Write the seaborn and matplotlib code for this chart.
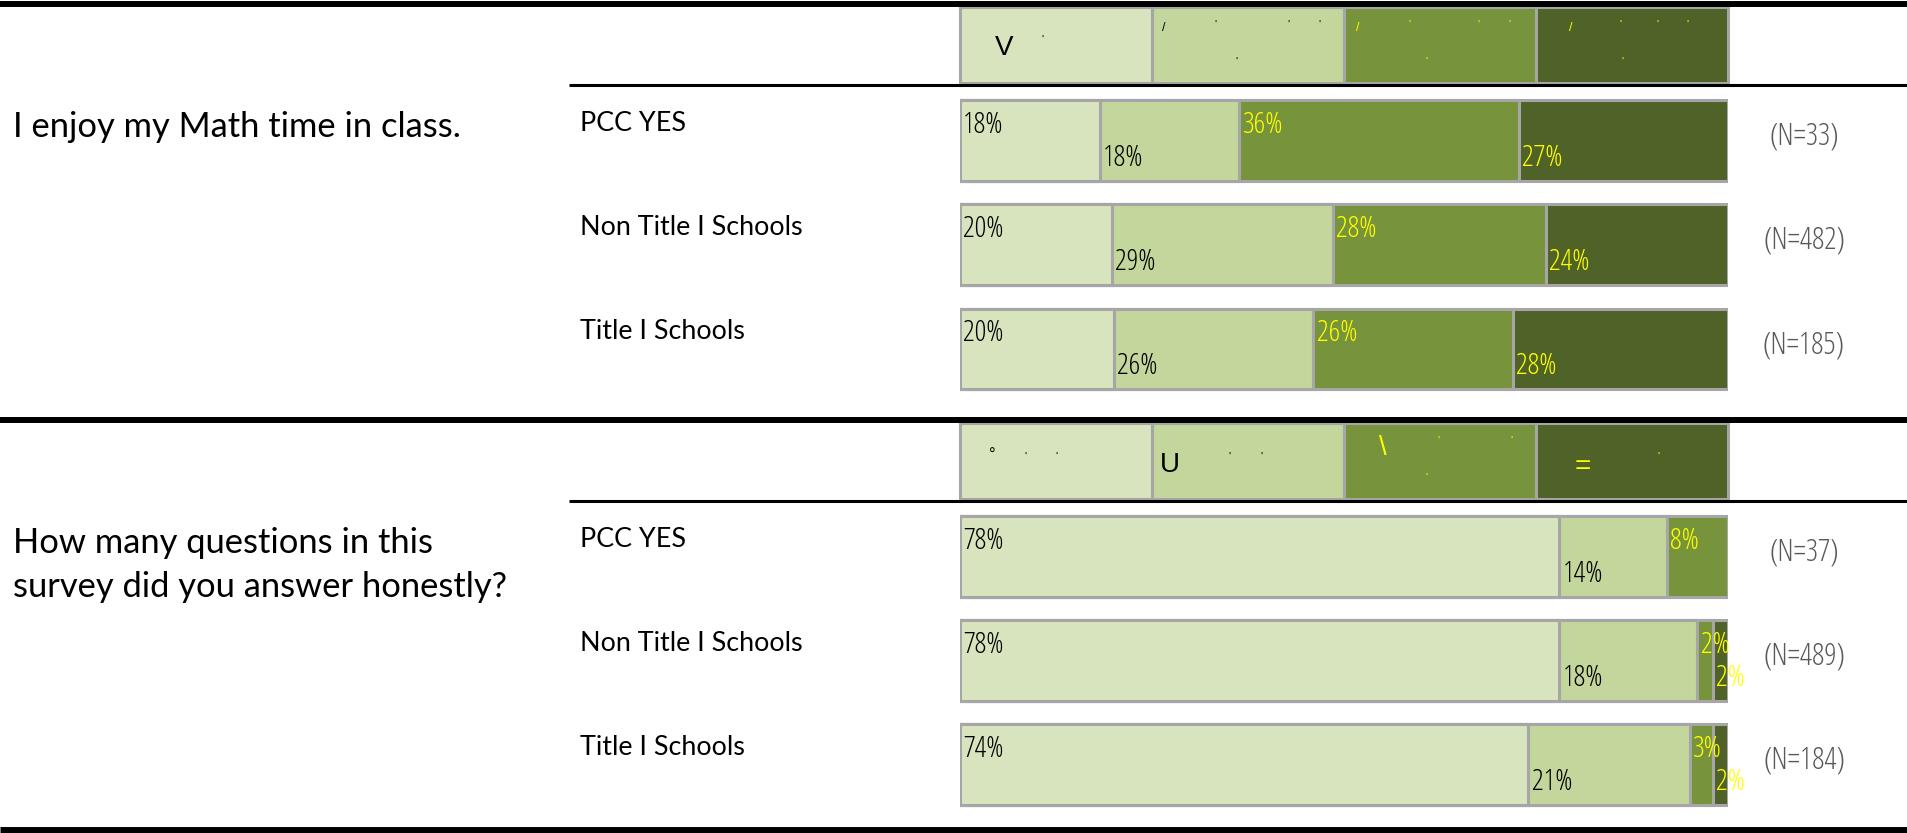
import numpy as np
import pandas as pd
import matplotlib
matplotlib.use("Agg")
import matplotlib.pyplot as plt
from matplotlib.patches import Rectangle
from matplotlib.font_manager import FontProperties
import seaborn as sns

# ---- data -------------------------------------------------------------
groups = ["PCC YES", "Non Title I Schools", "Title I Schools"]
levels = ["level_1", "level_2", "level_3", "level_4"]

q1_text = "I enjoy my Math time in class."
q1_pcc = [18, 18, 36, 27]
q1_non_title = [20, 29, 28, 24]
q1_title = [20, 26, 26, 28]
q1_n = [33, 482, 185]

q2_text = "How many questions in this\nsurvey did you answer honestly?"
q2_pcc = [78, 14, 8, 0]
q2_non_title = [78, 18, 2, 2]
q2_title = [74, 21, 3, 2]
q2_n = [37, 489, 184]

# ---- style ------------------------------------------------------------
SEG_COLORS = ["#D7E4BD", "#C3D69B", "#77933C", "#4F6228"]
TEXT_COLORS = ["black", "black", "#FFFF00", "#FFFF00"]
EDGE = "#A6A6A6"
REGULAR = ["Liberation Sans", "DejaVu Sans"]


def narrow(size):
    return FontProperties(family=["Open Sans", "DejaVu Sans"], stretch="condensed",
                          weight=300, size=size)


def label_font(size):
    return FontProperties(family=["Lato", "DejaVu Sans"], weight="normal", size=size)


W, H = 1908, 833
BAR_LEFT, BAR_RIGHT = 960, 1728
CELL_W = (BAR_RIGHT - BAR_LEFT) / 4

sns.set_theme(style="white")
plt.rcParams["font.family"] = ["Lato", "DejaVu Sans"]

fig = plt.figure(figsize=(W / 100, H / 100), dpi=100)

# background layer in pixel units for rules and header cells
bg = fig.add_axes([0, 0, 1, 1])
bg.set_xlim(0, W)
bg.set_ylim(H, 0)
bg.set_axis_off()

# header glyphs per cell: (text, x-frac, y-frac, size)
header_marks = [
    [
        [("V", 0.23, 0.54, 20), ("'", 0.43, 0.43, 8)],
        [("/", 0.06, 0.27, 9), ("'", 0.33, 0.24, 8), ("'", 0.71, 0.24, 8),
         ("'", 0.87, 0.24, 8), ("'", 0.44, 0.72, 8)],
        [("/", 0.07, 0.27, 9), ("'", 0.34, 0.24, 8), ("'", 0.70, 0.24, 8),
         ("'", 0.86, 0.24, 8), ("'", 0.43, 0.72, 8)],
        [("/", 0.18, 0.27, 9), ("'", 0.44, 0.24, 8), ("'", 0.63, 0.24, 8),
         ("'", 0.79, 0.24, 8), ("'", 0.45, 0.72, 8)],
    ],
    [
        [("°", 0.17, 0.43, 12), ("'", 0.34, 0.45, 8), ("'", 0.50, 0.45, 8)],
        [("U", 0.095, 0.55, 20), ("'", 0.405, 0.45, 8), ("'", 0.57, 0.45, 8)],
        [("\\", 0.20, 0.33, 20), ("'", 0.49, 0.24, 8), ("'", 0.87, 0.24, 8),
         ("'", 0.43, 0.72, 8)],
        [("=", 0.245, 0.58, 20), ("'", 0.64, 0.45, 8)],
    ],
]


def draw_header(top, bottom, marks):
    for k in range(4):
        x0 = BAR_LEFT + k * CELL_W
        bg.add_patch(Rectangle((x0, top), CELL_W, bottom - top,
                               facecolor=SEG_COLORS[k], edgecolor=EDGE,
                               linewidth=2.2, zorder=1))
        for txt, fx, fy, size in marks[k]:
            bg.text(x0 + fx * CELL_W, top + fy * (bottom - top), txt,
                    ha="center", va="center", fontsize=size,
                    family=REGULAR, color=TEXT_COLORS[k], zorder=2)


draw_header(7, 83, header_marks[0])
draw_header(423, 499, header_marks[1])

# horizontal rules
for y, lw in [(4, 4.3), (420, 4.3), (829.5, 5.0)]:
    bg.plot([0, W], [y, y], color="black", lw=lw, solid_capstyle="butt", zorder=3)
for y in (84.5, 500.5):
    bg.plot([569, W], [y, y], color="black", lw=2.2, solid_capstyle="butt", zorder=3)


def draw_block(rect, question, rows, ns):
    ax = fig.add_axes(rect)
    vals = np.array(rows, dtype=float)
    shares = vals / vals.sum(axis=1, keepdims=True) * 100
    cum = shares.cumsum(axis=1)
    df = pd.DataFrame(cum, columns=levels)
    df["group"] = groups
    # stacked bars: draw cumulative totals from the longest down
    for k in reversed(range(len(levels))):
        sns.barplot(data=df, x=levels[k], y="group", order=groups, orient="h",
                    color=SEG_COLORS[k], saturation=1, width=0.77,
                    edgecolor=EDGE, linewidth=2.2, errorbar=None, ax=ax)
    ax.set_xlim(0, 100)
    ax.set_ylim(2.5, -0.5)
    ax.set_axis_off()

    for i in range(len(groups)):
        for k in range(len(levels)):
            v = vals[i, k]
            if v <= 0:
                continue
            left = cum[i, k] - shares[i, k]
            dy = 5.4 if k % 2 == 0 else -18.4
            ax.annotate(f"{int(v)}%", xy=(left, i), xytext=(2.4, dy),
                        textcoords="offset points", ha="left", va="baseline",
                        fontproperties=narrow(21), color=TEXT_COLORS[k],
                        annotation_clip=False)
        ax.annotate(groups[i], xy=(580, i), xycoords=("figure pixels", "data"),
                    xytext=(0, 6.9), textcoords="offset points",
                    ha="left", va="baseline", fontproperties=label_font(19.4),
                    color="black", annotation_clip=False)
        ax.annotate(f"(N={ns[i]})", xy=(1804, i), xycoords=("figure pixels", "data"),
                    xytext=(0, -3.2), textcoords="offset points",
                    ha="center", va="baseline", fontproperties=narrow(22),
                    color="#595959", annotation_clip=False)

    # question text, one line per annotation, first baseline near row 0
    for j, line in enumerate(question.split("\n")):
        ax.annotate(line, xy=(13, 0), xycoords=("figure pixels", "data"),
                    xytext=(0, 2.5 - j * 44 * 0.72), textcoords="offset points",
                    ha="left", va="baseline", fontproperties=label_font(24.8),
                    color="black", annotation_clip=False)
    return ax


left_f = BAR_LEFT / W
width_f = (BAR_RIGHT - BAR_LEFT) / W
draw_block([left_f, (H - 400.6) / H, width_f, 312.1 / H], q1_text,
           [q1_pcc, q1_non_title, q1_title], q1_n)
draw_block([left_f, (H - 816.5) / H, width_f, 312.0 / H], q2_text,
           [q2_pcc, q2_non_title, q2_title], q2_n)

fig.savefig("out.png", dpi=100, facecolor="white")
